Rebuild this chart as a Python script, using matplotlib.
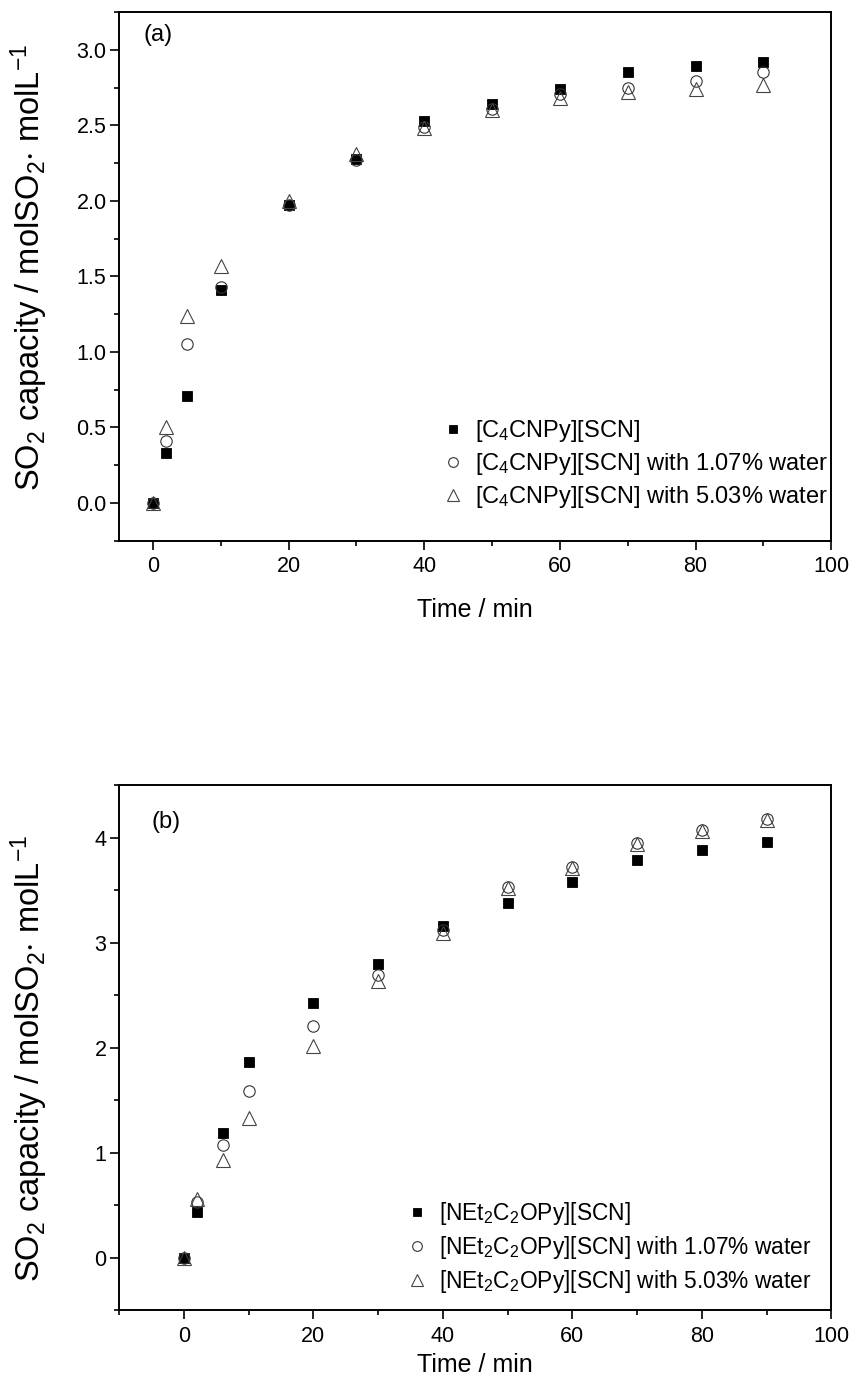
import matplotlib
matplotlib.use("Agg")
import matplotlib.pyplot as plt
from matplotlib.ticker import MultipleLocator, FormatStrFormatter

plt.rcParams["font.family"] = ["Liberation Sans", "DejaVu Sans"]
plt.rcParams["mathtext.fontset"] = "custom"
plt.rcParams["mathtext.rm"] = "Liberation Sans"
plt.rcParams["mathtext.it"] = "Liberation Sans"
plt.rcParams["mathtext.default"] = "regular"

# panel (a): [C4CNPy][SCN]
time_a = [0, 2, 5, 10, 20, 30, 40, 50, 60, 70, 80, 90]
dry_a = [0.0, 0.33, 0.71, 1.41, 1.97, 2.28, 2.53, 2.64, 2.74, 2.85, 2.89, 2.92]
water1_a = [0.0, 0.41, 1.05, 1.43, 1.97, 2.27, 2.49, 2.61, 2.71, 2.75, 2.79, 2.85]
water5_a = [0.0, 0.50, 1.24, 1.57, 2.00, 2.31, 2.48, 2.60, 2.68, 2.72, 2.74, 2.77]

# panel (b): [NEt2C2OPy][SCN]
time_b = [0, 2, 6, 10, 20, 30, 40, 50, 60, 70, 80, 90]
dry_b = [0.0, 0.44, 1.19, 1.86, 2.43, 2.80, 3.16, 3.38, 3.58, 3.79, 3.88, 3.96]
water1_b = [0.0, 0.53, 1.07, 1.59, 2.21, 2.69, 3.12, 3.53, 3.72, 3.95, 4.07, 4.18]
water5_b = [0.0, 0.56, 0.93, 1.33, 2.02, 2.64, 3.09, 3.52, 3.71, 3.94, 4.06, 4.17]

labels_a = ["[C$_4$CNPy][SCN]",
            "[C$_4$CNPy][SCN] with 1.07% water",
            "[C$_4$CNPy][SCN] with 5.03% water"]
labels_b = ["[NEt$_2$C$_2$OPy][SCN]",
            "[NEt$_2$C$_2$OPy][SCN] with 1.07% water",
            "[NEt$_2$C$_2$OPy][SCN] with 5.03% water"]

YLABEL = "SO$_2$ capacity / molSO$_2$$\\cdot$ molL$^{\\mathrm{-1}}$"


def draw_panel(ax, t, series, labels, legend_anchor, legend_size,
               xlabel_y, ylabel_y):
    styles = [
        dict(marker="s", ms=7.2, mfc="black", mec="black", mew=0.6),
        dict(marker="o", ms=8.2, mfc="none", mec="#333333", mew=0.8),
        dict(marker="^", ms=10.5, mfc="none", mec="#444444", mew=0.8),
    ]
    for y, lab, st in zip(series, labels, styles):
        ax.plot(t, y, ls="none", label=lab, **st)

    for side in ["top", "right", "bottom", "left"]:
        ax.spines[side].set_linewidth(1.4)
    ax.tick_params(which="both", direction="out", top=False, right=False,
                   labelsize=15.5, width=1.2)
    ax.tick_params(axis="y", pad=2.5)
    ax.tick_params(axis="x", pad=4.5)
    ax.tick_params(which="major", length=6.5)
    ax.tick_params(which="minor", length=3.5)
    ax.xaxis.set_major_locator(MultipleLocator(20))
    ax.xaxis.set_minor_locator(MultipleLocator(10))
    ax.set_xlabel("Time / min", fontsize=18)
    ax.xaxis.set_label_coords(0.5, xlabel_y)
    ax.set_ylabel(YLABEL, fontsize=23.5)
    ax.yaxis.set_label_coords(-0.097, ylabel_y)
    ax.legend(loc="lower right", frameon=False, fontsize=legend_size,
              handletextpad=0.45, labelspacing=0.3, markerscale=0.85,
              borderpad=0, borderaxespad=0, handlelength=1.0,
              bbox_to_anchor=legend_anchor)


fig = plt.figure(figsize=(8.5, 13.78), dpi=100)

ax_a = fig.add_axes([0.140, 0.6076, 0.838, 0.3837])
draw_panel(ax_a, time_a, [dry_a, water1_a, water5_a], labels_a,
           (0.996, 0.058), 17, -0.108, 0.516)
ax_a.set_xlim(-5, 100)
ax_a.set_ylim(-0.25, 3.25)
ax_a.yaxis.set_major_locator(MultipleLocator(0.5))
ax_a.yaxis.set_minor_locator(MultipleLocator(0.25))
ax_a.yaxis.set_major_formatter(FormatStrFormatter("%.1f"))
ax_a.text(0.034, 0.956, "(a)", transform=ax_a.transAxes, fontsize=17,
          ha="left", va="center")

ax_b = fig.add_axes([0.140, 0.049, 0.838, 0.3813])
draw_panel(ax_b, time_b, [dry_b, water1_b, water5_b], labels_b,
           (0.972, 0.030), 16.4, -0.08, 0.48)
ax_b.set_xlim(-10, 100)
ax_b.set_ylim(-0.5, 4.5)
ax_b.yaxis.set_major_locator(MultipleLocator(1))
ax_b.yaxis.set_minor_locator(MultipleLocator(0.5))
ax_b.text(0.046, 0.93, "(b)", transform=ax_b.transAxes, fontsize=17,
          ha="left", va="center")

fig.savefig("out.png", dpi=100)
